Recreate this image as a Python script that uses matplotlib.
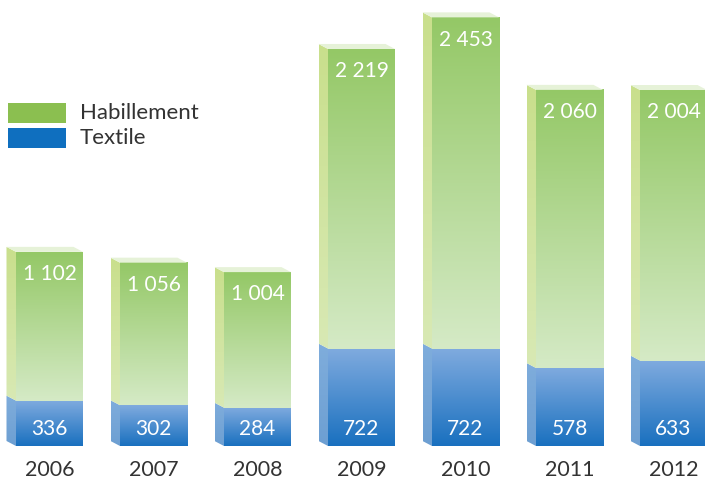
import numpy as np
import matplotlib.pyplot as plt
from matplotlib.colors import LinearSegmentedColormap
from matplotlib.patches import Polygon, Rectangle

# data
years = ['2006', '2007', '2008', '2009', '2010', '2011', '2012']
textile = [336, 302, 284, 722, 722, 578, 633]
habillement = [1102, 1056, 1004, 2219, 2453, 2060, 2004]
series_names = ['Habillement', 'Textile']

plt.rcParams['font.family'] = ['Lato', 'DejaVu Sans']

W, H = 705, 479
fig = plt.figure(figsize=(W / 100, H / 100), dpi=100)
ax = fig.add_axes([0, 0, 1, 1])

# axis scale: bar spacing 104 px, ~0.135 px per unit, baseline 33 px from bottom
px_x = 104.0
px_y = 0.135
xlim = (-49.5 / px_x, (W - 49.5) / px_x)
ylim = (-33 / px_y, (H - 33) / px_y)

bar_w = 67 / px_x
dx = -9.5 / px_x   # depth offset of the side face
dy = 5.0 / px_y


def grad_fill(x0, x1, y0, y1, c_top, c_bot, clip=None):
    cmap = LinearSegmentedColormap.from_list('g', [c_bot, c_top])
    g = np.linspace(0, 1, 256).reshape(-1, 1)
    im = ax.imshow(g, cmap=cmap, extent=(x0, x1, y0, y1), origin='lower',
                   aspect='auto', interpolation='bicubic', zorder=2)
    if clip is not None:
        ax.add_patch(clip)
        im.set_clip_path(clip)
    return im


def seg(i, y0, y1, c_top, c_bot, s_top, s_bot):
    x0 = i - bar_w / 2
    x1 = i + bar_w / 2
    # front face
    grad_fill(x0, x1, y0, y1, c_top, c_bot)
    # side face (left, parallelogram)
    side = Polygon([(x0, y0), (x0, y1), (x0 + dx, y1 + dy), (x0 + dx, y0 + dy)],
                   closed=True, facecolor='none', edgecolor='none')
    grad_fill(x0 + dx, x0, y0, y1 + dy, s_top, s_bot, clip=side)


for i, (t, h) in enumerate(zip(textile, habillement)):
    total = t + h
    seg(i, 0, t, '#80abdf', '#1970bf', '#7faddc', '#6d9fd2')
    seg(i, t, total, '#94c866', '#d5eac6', '#c9df8c', '#d8e9b4')
    x0 = i - bar_w / 2
    x1 = i + bar_w / 2
    top = Polygon([(x0, total), (x1, total), (x1 + dx, total + dy), (x0 + dx, total + dy)],
                  closed=True, facecolor='#e6f2d8', edgecolor='none', zorder=3)
    ax.add_patch(top)

    ax.annotate(f'{h:,}'.replace(',', ' '), (i, total), xytext=(0, -16),
                textcoords='offset points', ha='center', va='center',
                color='white', fontsize=15, zorder=5)
    ax.annotate(f'{t:,}'.replace(',', ' '), (i, 0), xytext=(0, 12),
                textcoords='offset points', ha='center', va='center',
                color='white', fontsize=15, zorder=5)
    ax.annotate(years[i], (i, 0), xytext=(0, -17.5),
                textcoords='offset points', ha='center', va='center',
                color='#333333', fontsize=15.5)

# legend
leg_colors = ['#8bbf50', '#0f6fbf']
for k, (name, c) in enumerate(zip(series_names, leg_colors)):
    ytop = 103 + k * 25
    ax.add_patch(Rectangle((8 / W, 1 - (ytop + 20) / H), 58 / W, 20 / H,
                           transform=ax.transAxes, facecolor=c, edgecolor='none'))
    ax.text(80 / W, 1 - (ytop + 10) / H, name, transform=ax.transAxes,
            ha='left', va='center', color='#333333', fontsize=16)

ax.set_xlim(*xlim)
ax.set_ylim(*ylim)
ax.axis('off')

fig.savefig('out.png', dpi=100)
